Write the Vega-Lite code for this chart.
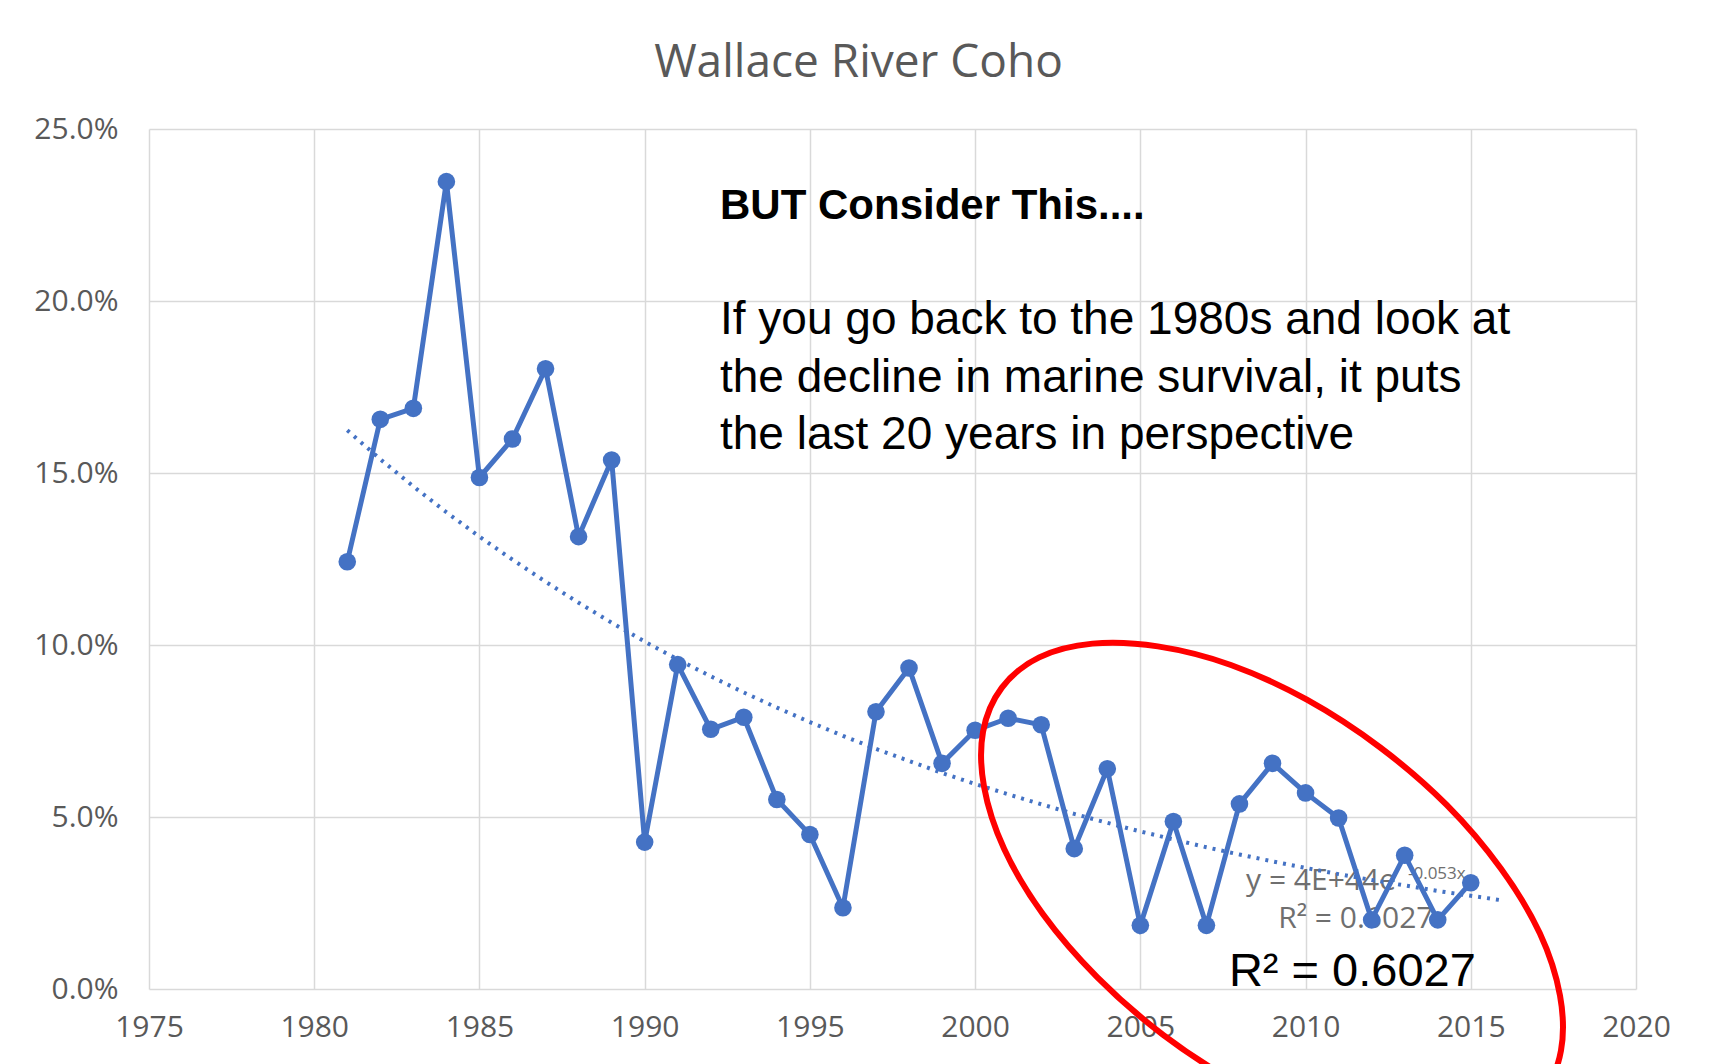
{
  "$schema": "https://vega.github.io/schema/vega-lite/v6.json",
  "width": 1487,
  "height": 860,
  "autosize": {"type": "none"},
  "padding": {"left": 149, "top": 129, "right": 81, "bottom": 75},
  "background": "white",
  "config": {"view": {"stroke": null}},
  "title": {
    "text": "Wallace River Coho",
    "font": "Open Sans",
    "fontSize": 46,
    "fontWeight": "normal",
    "color": "#595959",
    "anchor": "middle",
    "baseline": "alphabetic",
    "offset": 52,
    "dy": 61,
    "dx": -34
  },
  "datasets": {
    "coho": [
      {"year": 1981, "survival": 0.1242},
      {"year": 1982, "survival": 0.1656},
      {"year": 1983, "survival": 0.1688},
      {"year": 1984, "survival": 0.2347},
      {"year": 1985, "survival": 0.1487},
      {"year": 1986, "survival": 0.1599},
      {"year": 1987, "survival": 0.1803},
      {"year": 1988, "survival": 0.1315},
      {"year": 1989, "survival": 0.1538},
      {"year": 1990, "survival": 0.0427},
      {"year": 1991, "survival": 0.0943},
      {"year": 1992, "survival": 0.0755},
      {"year": 1993, "survival": 0.0790},
      {"year": 1994, "survival": 0.0551},
      {"year": 1995, "survival": 0.0449},
      {"year": 1996, "survival": 0.0236},
      {"year": 1997, "survival": 0.0806},
      {"year": 1998, "survival": 0.0933},
      {"year": 1999, "survival": 0.0656},
      {"year": 2000, "survival": 0.0752},
      {"year": 2001, "survival": 0.0787},
      {"year": 2002, "survival": 0.0768},
      {"year": 2003, "survival": 0.0408},
      {"year": 2004, "survival": 0.0640},
      {"year": 2005, "survival": 0.0185},
      {"year": 2006, "survival": 0.0487},
      {"year": 2007, "survival": 0.0185},
      {"year": 2008, "survival": 0.0538},
      {"year": 2009, "survival": 0.0656},
      {"year": 2010, "survival": 0.0570},
      {"year": 2011, "survival": 0.0497},
      {"year": 2012, "survival": 0.0201},
      {"year": 2013, "survival": 0.0389},
      {"year": 2014, "survival": 0.0201},
      {"year": 2015, "survival": 0.0309}
    ],
    "trend": [
      {"year": 1981, "trend": 0.1624},
      {"year": 1982, "trend": 0.1540},
      {"year": 1983, "trend": 0.1461},
      {"year": 1984, "trend": 0.1386},
      {"year": 1985, "trend": 0.1315},
      {"year": 1986, "trend": 0.1248},
      {"year": 1987, "trend": 0.1184},
      {"year": 1988, "trend": 0.1123},
      {"year": 1989, "trend": 0.1065},
      {"year": 1990, "trend": 0.1010},
      {"year": 1991, "trend": 0.0958},
      {"year": 1992, "trend": 0.0909},
      {"year": 1993, "trend": 0.0862},
      {"year": 1994, "trend": 0.0818},
      {"year": 1995, "trend": 0.0776},
      {"year": 1996, "trend": 0.0736},
      {"year": 1997, "trend": 0.0698},
      {"year": 1998, "trend": 0.0663},
      {"year": 1999, "trend": 0.0628},
      {"year": 2000, "trend": 0.0596},
      {"year": 2001, "trend": 0.0566},
      {"year": 2002, "trend": 0.0537},
      {"year": 2003, "trend": 0.0509},
      {"year": 2004, "trend": 0.0483},
      {"year": 2005, "trend": 0.0458},
      {"year": 2006, "trend": 0.0435},
      {"year": 2007, "trend": 0.0412},
      {"year": 2008, "trend": 0.0391},
      {"year": 2009, "trend": 0.0371},
      {"year": 2010, "trend": 0.0352},
      {"year": 2011, "trend": 0.0334},
      {"year": 2012, "trend": 0.0317},
      {"year": 2013, "trend": 0.0301},
      {"year": 2014, "trend": 0.0285},
      {"year": 2015, "trend": 0.0271},
      {"year": 2016, "trend": 0.0257}
    ],
    "ellipse": [
      {"i": 0, "yr": 2017.16, "pct": -0.0307},
      {"i": 1, "yr": 2016.03, "pct": -0.0395},
      {"i": 2, "yr": 2014.42, "pct": -0.0437},
      {"i": 3, "yr": 2012.44, "pct": -0.0430},
      {"i": 4, "yr": 2010.23, "pct": -0.0373},
      {"i": 5, "yr": 2007.93, "pct": -0.0273},
      {"i": 6, "yr": 2005.70, "pct": -0.0134},
      {"i": 7, "yr": 2003.70, "pct": 0.0034},
      {"i": 8, "yr": 2002.05, "pct": 0.0218},
      {"i": 9, "yr": 2000.88, "pct": 0.0407},
      {"i": 10, "yr": 2000.27, "pct": 0.0588},
      {"i": 11, "yr": 2000.24, "pct": 0.0748},
      {"i": 12, "yr": 2000.81, "pct": 0.0876},
      {"i": 13, "yr": 2001.94, "pct": 0.0964},
      {"i": 14, "yr": 2003.55, "pct": 0.1004},
      {"i": 15, "yr": 2005.53, "pct": 0.0996},
      {"i": 16, "yr": 2007.74, "pct": 0.0942},
      {"i": 17, "yr": 2010.04, "pct": 0.0841},
      {"i": 18, "yr": 2012.26, "pct": 0.0702},
      {"i": 19, "yr": 2014.27, "pct": 0.0535},
      {"i": 20, "yr": 2015.91, "pct": 0.0350},
      {"i": 21, "yr": 2017.09, "pct": 0.0162},
      {"i": 22, "yr": 2017.70, "pct": -0.0019},
      {"i": 23, "yr": 2017.73, "pct": -0.0179}
    ]
  },
  "layer": [
    {
      "data": {"values": [{}]},
      "mark": {"type": "text", "text": "y = 4E+44e", "font": "Open Sans", "fontSize": 30, "color": "#6f6f6f", "align": "left", "baseline": "alphabetic"},
      "encoding": {
        "x": {"datum": 2008.2, "type": "quantitative", "scale": {"domain": [1975, 2020], "nice": false, "zero": false},
          "axis": {"title": null, "values": [1975, 1980, 1985, 1990, 1995, 2000, 2005, 2010, 2015, 2020], "format": "d", "grid": true, "gridColor": "#d9d9d9", "gridWidth": 1.5, "domain": false, "ticks": false, "tickSize": 0, "labelFont": "Open Sans", "labelFontSize": 30, "labelColor": "#595959", "labelPadding": 23, "labelFlush": false, "labelOverlap": false}},
        "y": {"datum": 0.0288, "type": "quantitative", "scale": {"domain": [0, 0.25], "nice": false, "zero": false},
          "axis": {"title": null, "values": [0, 0.05, 0.1, 0.15, 0.2, 0.25], "format": ".1%", "grid": true, "gridColor": "#d9d9d9", "gridWidth": 1.5, "domain": false, "ticks": false, "tickSize": 0, "labelFont": "Open Sans", "labelFontSize": 30, "labelColor": "#595959", "labelPadding": 31, "labelFlush": false, "labelOverlap": false}}
      }
    },
    {
      "data": {"values": [{}]},
      "mark": {"type": "text", "text": "-0.053x", "font": "Open Sans", "fontSize": 17, "color": "#6f6f6f", "align": "left", "baseline": "alphabetic"},
      "encoding": {"x": {"datum": 2013.1, "type": "quantitative"}, "y": {"datum": 0.032, "type": "quantitative"}}
    },
    {
      "data": {"values": [{}]},
      "mark": {"type": "text", "text": "R² = 0.6027", "font": "Open Sans", "fontSize": 30, "color": "#6f6f6f", "align": "left", "baseline": "alphabetic"},
      "encoding": {"x": {"datum": 2009.17, "type": "quantitative"}, "y": {"datum": 0.0177, "type": "quantitative"}}
    },
    {
      "data": {"name": "trend"},
      "mark": {"type": "line", "color": "#4472C4", "strokeWidth": 4, "strokeDash": [3, 6], "strokeCap": "butt"},
      "encoding": {
        "x": {"field": "year", "type": "quantitative"},
        "y": {"field": "trend", "type": "quantitative"}
      }
    },
    {
      "data": {"name": "coho"},
      "mark": {"type": "line", "color": "#4472C4", "strokeWidth": 5, "point": {"filled": true, "size": 310, "color": "#4472C4"}},
      "encoding": {
        "x": {"field": "year", "type": "quantitative"},
        "y": {"field": "survival", "type": "quantitative"}
      }
    },
    {
      "data": {"values": [{}]},
      "mark": {"type": "text", "text": "BUT Consider This....", "font": "Liberation Sans", "fontWeight": "bold", "fontSize": 42, "color": "#000000", "align": "left", "baseline": "alphabetic"},
      "encoding": {"x": {"datum": 1992.28, "type": "quantitative"}, "y": {"datum": 0.2238, "type": "quantitative"}}
    },
    {
      "data": {"values": [{}]},
      "mark": {"type": "text", "text": ["If you go back to the 1980s and look at", "the decline in marine survival, it puts", "the last 20 years in perspective"], "font": "Liberation Sans", "fontSize": 46, "lineHeight": 57.5, "color": "#000000", "align": "left", "baseline": "alphabetic"},
      "encoding": {"x": {"datum": 1992.28, "type": "quantitative"}, "y": {"datum": 0.1904, "type": "quantitative"}}
    },
    {
      "data": {"values": [{}]},
      "mark": {"type": "text", "text": "R² = 0.6027", "font": "Liberation Sans", "fontSize": 47, "color": "#000000", "align": "left", "baseline": "alphabetic"},
      "encoding": {"x": {"datum": 2007.68, "type": "quantitative"}, "y": {"datum": 0.001, "type": "quantitative"}}
    },
    {
      "data": {"name": "ellipse"},
      "mark": {"type": "line", "color": "#FF0000", "strokeWidth": 6, "interpolate": "cardinal-closed"},
      "encoding": {
        "x": {"field": "yr", "type": "quantitative"},
        "y": {"field": "pct", "type": "quantitative"},
        "order": {"field": "i", "type": "quantitative"}
      }
    }
  ]
}
